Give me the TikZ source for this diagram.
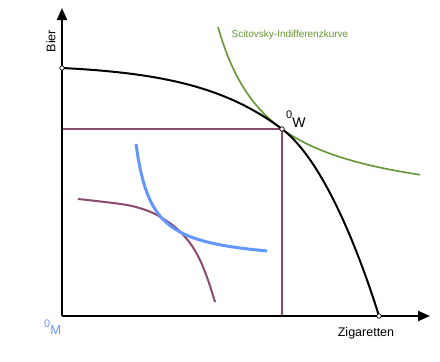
\documentclass[tikz,border=0pt]{standalone}
\usepackage{fontspec}
\setmainfont{Liberation Sans}
\usetikzlibrary{arrows.meta, positioning}
\definecolor{bierblau}{RGB}{100,150,255}
\definecolor{pflaume}{RGB}{139,74,110}
\definecolor{grasgruen}{RGB}{100,150,50}

\begin{document}
\begin{tikzpicture}[x=1pt, y=-1pt,
    achse/.style={line width=2pt, -{Triangle[length=12pt,width=10pt]}},
    kurve/.style={line width=2pt, line join=round},
    punkt/.style={circle, draw=black, fill=white, inner sep=0pt, minimum size=4.5pt, line width=0.7pt}]
  \useasboundingbox (0,0) rectangle (440,362);
  \coordinate (O) at (62,316);
  \coordinate (ytip) at (62,8);
  \coordinate (xtip) at (430,316);
  \coordinate (B) at (62,68);
  \coordinate (W) at (282,129);
  \coordinate (Z) at (379,316);

  \draw[pflaume, line width=2pt] (O |- W) -- (W) -- (W |- O);
  \draw[kurve, pflaume] plot[smooth] coordinates {(78,199) (127,205) (153,213) (175,227) (190,243) (200,260) (208,280) (215,302)};
  \draw[kurve, bierblau, line width=3pt] plot[domain=136:267, samples=60] (\x, {264 - 1921/(\x-120)});
  \draw[kurve, grasgruen, line width=1.6pt] plot[domain=218:420, samples=80] (\x, {213.5 - 9884/(\x-165)});
  \draw[kurve] (B) .. controls (162,73) and (226,87) .. (W)
    .. controls (326,162) and (362.7,263.5) .. (Z);

  \draw[achse] (O) -- (ytip);
  \draw[achse] (O) -- (xtip);

  \node[punkt] (pB) at (B) {};
  \node[punkt] (pW) at (W) {};
  \node[punkt] (pZ) at (Z) {};

  \node[rotate=90, font=\fontsize{12.5}{14}\selectfont] (bier) at (51,41) {Bier};
  \node[anchor=base, font=\fontsize{12.5}{14}\selectfont] (zig) at (366,336) {Zigaretten};
  \node[anchor=base, grasgruen, font=\fontsize{10}{12}\selectfont] (scit) at (290,37) {Scitovsky-Indifferenzkurve};
  \node[anchor=base west, inner sep=0pt, font=\fontsize{14}{16}\selectfont] (nullW) at (286,118) {{\fontsize{11}{12}\selectfont 0}\raisebox{-9pt}{W}};
  \node[anchor=base west, inner sep=0pt, bierblau, font=\fontsize{13}{15}\selectfont] (nullM) at (44,327) {{\fontsize{11}{12}\selectfont 0}\raisebox{-7pt}{M}};
\end{tikzpicture}
\end{document}
